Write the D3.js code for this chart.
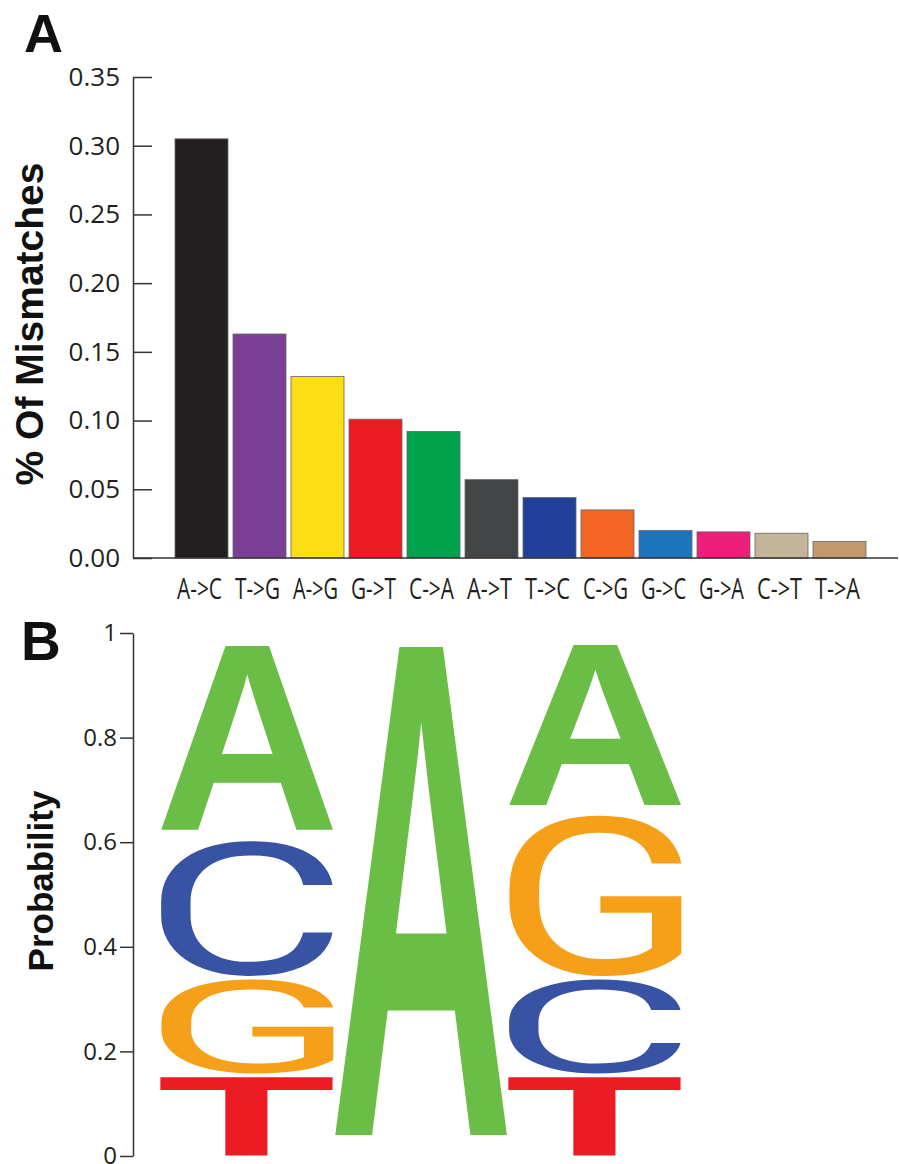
<!DOCTYPE html>
<html><head><meta charset="utf-8">
<script src="https://cdn.jsdelivr.net/npm/d3@7"></script>
<style>body{margin:0;background:#fff} svg{display:block}</style>
</head><body>
<svg id="chart" width="899" height="1164"></svg>
<script>
// ---------- Panel A data ----------
const mismatchCategories = ["A->C","T->G","A->G","G->T","C->A","A->T","T->C","C->G","G->C","G->A","C->T","T->A"];
const mismatchValues = [0.305,0.163,0.132,0.101,0.092,0.057,0.044,0.035,0.020,0.019,0.018,0.012];
const barColors = ["#231f20","#7b3f98","#fddd16","#ec1c24","#00a14b","#444547","#21409a","#f26522","#1c75bc","#ec1e79","#c4b59a","#c49a6c"];
const mismatchTicks = [0,0.05,0.10,0.15,0.20,0.25,0.30,0.35];

// ---------- Panel B data (sequence logo, stacked bottom -> top) ----------
const logoPositions = [1,2,3];
const pos1Bases = ["T","G","C","A"];
const pos1Probs = [0.16,0.19,0.27,0.38];
const pos2Bases = ["A"];
const pos2Probs = [1.0];
const pos3Bases = ["T","C","G","A"];
const pos3Probs = [0.16,0.19,0.32,0.33];
const probTicks = [0,0.2,0.4,0.6,0.8,1];
const baseColors = {A:"#6abd45", C:"#3953a4", G:"#f6a01a", T:"#ed1c24"};

const svg = d3.select("#chart");
const axisColor = "#333";
const tickFont = "'Open Sans', 'Noto Sans', sans-serif";
const boldFont = "'Liberation Sans', Arial, sans-serif";

// ================= Panel A =================
const yA = d3.scaleLinear().domain([0,0.35]).range([558,77]);
const xA = d3.scaleBand().domain(mismatchCategories).range([175,866]).paddingInner(5/58).paddingOuter(0);

svg.append("g").selectAll("rect")
  .data(mismatchCategories)
  .join("rect")
  .attr("x", d => xA(d))
  .attr("width", xA.bandwidth())
  .attr("y", (d,i) => yA(mismatchValues[i]))
  .attr("height", (d,i) => yA(0) - yA(mismatchValues[i]))
  .attr("fill", (d,i) => barColors[i])
  .attr("stroke", "#666")
  .attr("stroke-width", 0.8);

const gA = svg.append("g").attr("transform","translate(133,0)")
  .call(d3.axisLeft(yA).tickValues(mismatchTicks).tickSizeInner(-19).tickSizeOuter(0).tickPadding(13).tickFormat(d3.format(".2f")));
gA.select(".domain").attr("stroke", axisColor).attr("stroke-width",1.5);
gA.selectAll(".tick line").attr("stroke", axisColor).attr("stroke-width",1.5);
gA.selectAll(".tick text").attr("font-family", tickFont).attr("font-size", 26).attr("fill","#231f20");

// x baseline
svg.append("line").attr("x1",133).attr("x2",898).attr("y1",yA(0)).attr("y2",yA(0))
  .attr("stroke", axisColor).attr("stroke-width",1.5);

// x labels (condensed look)
svg.append("g").selectAll("text")
  .data(mismatchCategories)
  .join("text")
  .attr("x", d => xA(d) + xA.bandwidth()/2 - 2)
  .attr("y", 599)
  .attr("text-anchor","middle")
  .attr("font-family", tickFont)
  .attr("font-size", 30)
  .attr("textLength", 45)
  .attr("lengthAdjust", "spacingAndGlyphs")
  .attr("fill","#231f20")
  .text(d => d);

// y title
svg.append("text")
  .attr("transform","translate(43,324) rotate(-90)")
  .attr("text-anchor","middle")
  .attr("font-family", boldFont).attr("font-weight","bold").attr("font-size",39)
  .attr("fill","#111")
  .text("% Of Mismatches");

svg.append("text").attr("x",24).attr("y",52)
  .attr("font-family", boldFont).attr("font-weight","bold").attr("font-size",54)
  .attr("fill","#111").text("A");

// ================= Panel B =================
const yB = d3.scaleLinear().domain([0,1]).range([1156,633]);
const gB = svg.append("g").attr("transform","translate(133,0)")
  .call(d3.axisLeft(yB).tickValues(probTicks).tickSizeInner(13).tickSizeOuter(0).tickPadding(3)
    .tickFormat(d => (d===0||d===1) ? String(d) : d.toFixed(1)));
gB.select(".domain").attr("stroke", axisColor).attr("stroke-width",1.5);
gB.selectAll(".tick line").attr("stroke", axisColor).attr("stroke-width",1.5);
gB.selectAll(".tick text").attr("font-family", tickFont).attr("font-size", 24).attr("fill","#231f20");

svg.append("text")
  .attr("transform","translate(53,881) rotate(-90)")
  .attr("text-anchor","middle")
  .attr("font-family", boldFont).attr("font-weight","bold").attr("font-size",35)
  .attr("fill","#111")
  .text("Probability");

svg.append("text").attr("x",21).attr("y",660)
  .attr("font-family", boldFont).attr("font-weight","bold").attr("font-size",55)
  .attr("fill","#111").text("B");

// logo
const logoY = d3.scaleLinear().domain([0,1]).range([1157,644]);
const logoX = d3.scaleBand().domain(logoPositions).range([160,682]).padding(0);

const glyphSize = 200;
const glyphFonts = {
  A: {family:"'Liberation Sans'", weight:"bold"},
  T: {family:"'Liberation Sans'", weight:"bold"},
  C: {family:"Roboto", weight:"normal"},
  G: {family:"Roboto", weight:"normal"}
};
const ctx = document.createElement("canvas").getContext("2d");
const metrics = {};
["A","C","G","T"].forEach(b => {
  const f = glyphFonts[b];
  ctx.font = `${f.weight} ${glyphSize}px ${f.family}`;
  const m = ctx.measureText(b);
  metrics[b] = {L:m.actualBoundingBoxLeft, R:m.actualBoundingBoxRight, A:m.actualBoundingBoxAscent, D:m.actualBoundingBoxDescent};
});

const columns = [
  {pos:1, bases:pos1Bases, probs:pos1Probs},
  {pos:2, bases:pos2Bases, probs:pos2Probs},
  {pos:3, bases:pos3Bases, probs:pos3Probs}
];
const letters = [];
columns.forEach(col => {
  let cum = 0;
  col.bases.forEach((b,i) => {
    letters.push({pos:col.pos, base:b, y0:cum, y1:cum+col.probs[i]});
    cum += col.probs[i];
  });
});

const gap = 1.5;
svg.append("g").selectAll("text")
  .data(letters)
  .join("text")
  .attr("font-family", d => glyphFonts[d.base].family)
  .attr("font-weight", d => glyphFonts[d.base].weight)
  .attr("font-size", glyphSize)
  .attr("fill", d => baseColors[d.base])
  .attr("transform", d => {
    const m = metrics[d.base];
    const x0 = logoX(d.pos), w = logoX.bandwidth();
    let top = logoY(d.y1) + gap, bot = logoY(d.y0) - gap;
    if (d.base === "A") bot -= (bot - top) * 0.033;
    const h = bot - top;
    const sx = w / (m.L + m.R), sy = h / (m.A + m.D);
    return `translate(${x0},${top}) scale(${sx},${sy}) translate(${m.L},${m.A})`;
  })
  .text(d => d.base);
</script>
</body></html>
